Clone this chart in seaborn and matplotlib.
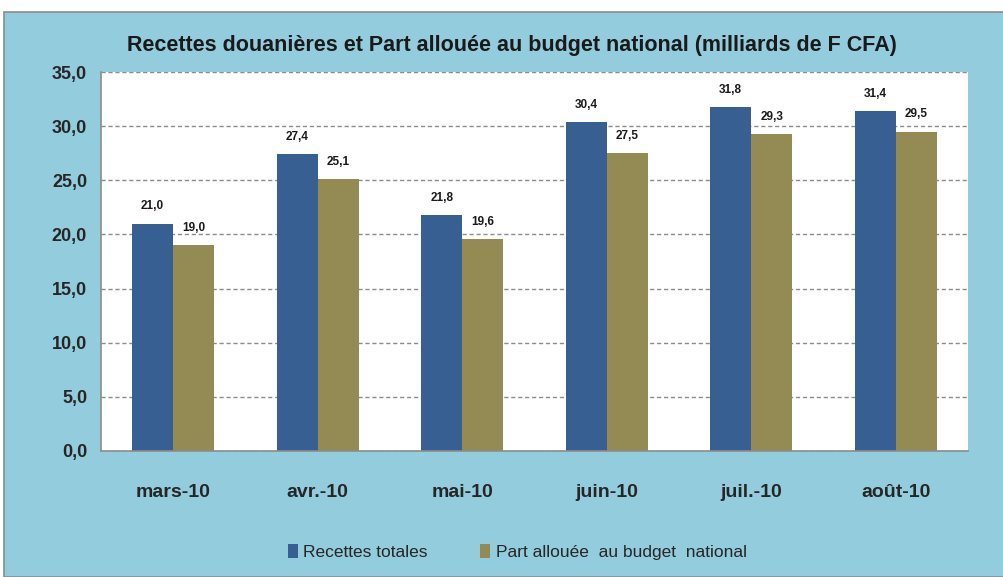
import matplotlib
matplotlib.use("Agg")
import matplotlib.pyplot as plt
import seaborn as sns
import pandas as pd
from matplotlib.patches import Rectangle

months = ["mars-10", "avr.-10", "mai-10", "juin-10", "juil.-10", "août-10"]
recettes = [21.0, 27.4, 21.8, 30.4, 31.8, 31.4]
part = [19.0, 25.1, 19.6, 27.5, 29.3, 29.5]
series_names = ["Recettes totales", "Part allouée  au budget  national"]
yticks = [0, 5, 10, 15, 20, 25, 30, 35]

df = pd.DataFrame({
    "mois": months * 2,
    "valeur": recettes + part,
    "serie": [series_names[0]] * len(months) + [series_names[1]] * len(months),
})

sns.set_theme(style="white")
plt.rcParams['font.family'] = ['Liberation Sans', 'DejaVu Sans']

fig = plt.figure(figsize=(10.04, 5.77), dpi=100)
fig.patch.set_facecolor("white")
bg = Rectangle((4/1004, 0), 1 - 4/1004, 1 - 12/577, transform=fig.transFigure,
               facecolor="#93CDDD", edgecolor="#8C8C8C", linewidth=1.2, zorder=-10)
fig.patches.append(bg)

ax = fig.add_axes([101/1004, 1 - 451/577, 867/1004, (451 - 72)/577])
ax.set_zorder(1)
ax.set_facecolor("white")
palette = {series_names[0]: "#375F91", series_names[1]: "#948A54"}
sns.barplot(data=df, x="mois", y="valeur", hue="serie", palette=palette, ax=ax,
            width=0.57, saturation=1, edgecolor="none")

ax.set_ylim(0, 35)
ax.set_yticks(yticks)
ax.set_yticklabels([f"{v:.1f}".replace(".", ",") for v in yticks], fontweight="bold", fontsize=13)
ax.yaxis.grid(True, linestyle=(0, (3, 2)), color="#8C8C8C", linewidth=1)
ax.set_axisbelow(True)
for lab in ax.get_xticklabels():
    lab.set_fontweight("bold")
    lab.set_fontsize(14)
ax.tick_params(axis="x", pad=24, length=0)
ax.tick_params(axis="y", pad=10, length=0)
ax.set_xlabel("")
ax.set_ylabel("")
for s in ["top", "right"]:
    ax.spines[s].set_visible(False)
for s in ["left", "bottom"]:
    ax.spines[s].set_color("#8C8C8C")
    ax.spines[s].set_linewidth(1.2)

for cont in ax.containers:
    ax.bar_label(cont, labels=[f"{v:.1f}".replace(".", ",") for v in cont.datavalues],
                 padding=8, fontsize=8.5, fontweight="bold", color="#1a1a1a")

leg = ax.legend(loc="upper center", bbox_to_anchor=(0.48, -0.205), ncol=2, frameon=False,
                fontsize=12.5, handlelength=0.6, handleheight=0.8, columnspacing=3,
                handletextpad=0.3)

fig.text(0.51, 1 - 45/577, "Recettes douanières et Part allouée au budget national (milliards de F CFA)",
         ha="center", va="center", fontsize=15.5, fontweight="bold", color="#1a1a1a")

fig.savefig("out.png", dpi=100, facecolor=fig.get_facecolor())
